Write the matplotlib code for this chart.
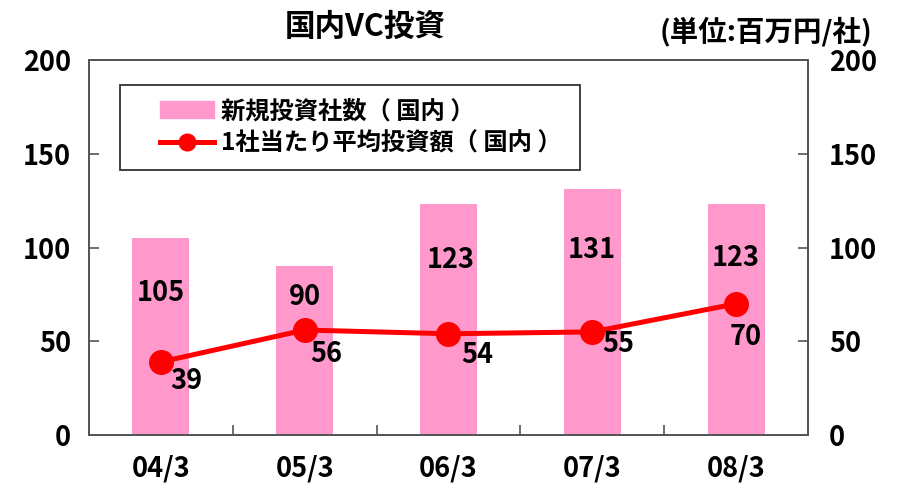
import matplotlib.pyplot as plt
from matplotlib.patches import Patch
from matplotlib.lines import Line2D
from matplotlib.legend_handler import HandlerPatch, HandlerLine2D

plt.rcParams['font.family'] = ['Noto Sans CJK JP', 'DejaVu Sans']

# data
periods = ['04/3', '05/3', '06/3', '07/3', '08/3']
new_companies = [105, 90, 123, 131, 123]      # 新規投資社数(国内)
avg_investment = [39, 56, 54, 55, 70]         # 1社当たり平均投資額(国内)

bar_color = '#FF99CC'
line_color = '#FF0000'

fig = plt.figure(figsize=(8.97, 4.86), dpi=100)
ax = fig.add_axes([0.0992, 0.1049, 0.8016, 0.7716])
ax2 = ax.twinx()

x = list(range(len(periods)))
ax.bar(x, new_companies, width=0.395, color=bar_color, zorder=2)
ax2.plot(x, avg_investment, color=line_color, lw=3.6, marker='o', ms=17, zorder=3)

for a in (ax, ax2):
    a.set_ylim(0, 200)
    a.set_xlim(-0.5, len(periods) - 0.5)
    a.set_yticks([0, 50, 100, 150, 200])
    for s in a.spines.values():
        s.set_color('#555555')
        s.set_linewidth(1.3)

ax.tick_params(axis='y', direction='in', length=7, width=1.2, color='#555555',
               pad=13, labelsize=19.5)
ax2.tick_params(axis='y', direction='in', length=7, width=1.2, color='#555555',
                pad=15, labelsize=19.5)
ax.set_xticks([i + 0.5 for i in x[:-1]])
ax.set_xticklabels([])
ax.set_xticks(x, minor=True)
ax.set_xticklabels(periods, minor=True, fontsize=19.5)
ax.tick_params(axis='x', which='major', direction='in', length=7, width=1.2, color='#555555')
ax.tick_params(axis='x', which='minor', length=0, pad=14)
for lab in ax.get_yticklabels() + ax2.get_yticklabels() + ax.get_xticklabels(minor=True):
    lab.set_fontweight('bold')

# value labels
bar_off = [(0, -55), (0, -31), (2, -56), (0, -61), (0, -54)]
for i, v in enumerate(new_companies):
    ax.annotate(str(v), (i, v), xytext=bar_off[i], textcoords='offset pixels',
                ha='center', va='center', fontsize=19.5, fontweight='bold', zorder=4)
line_off = [(25, -19), (22, -24), (29, -21), (26, -12), (10, -33)]
for i, v in enumerate(avg_investment):
    ax2.annotate(str(v), (i, v), xytext=line_off[i], textcoords='offset pixels',
                 ha='center', va='center', fontsize=19.5, fontweight='bold', zorder=4)

bar_h = Patch(color=bar_color)
line_h = Line2D([], [], color=line_color, lw=3.6, marker='o', ms=12)
labels = ['新規投資社数（ 国内 ）', '1社当たり平均投資額（ 国内 ）']
leg = ax2.legend([bar_h, line_h], labels, loc='upper left',
                 bbox_to_anchor=(0.043, 0.704, 0.640, 0.229), mode='expand',
                 borderaxespad=0, fancybox=False, framealpha=1, edgecolor='#333333',
                 prop={'size': 17.5, 'weight': 'bold'}, handlelength=3.3,
                 handleheight=0.7, handletextpad=0.28, labelspacing=0.36,
                 borderpad=0.58,
                 handler_map={Patch: HandlerPatch(xpad=1.07),
                              Line2D: HandlerLine2D(xpad=1.07)})
leg.get_frame().set_linewidth(1.3)

fig.text(0.407, 0.945, '国内VC投資', ha='center', va='center', fontsize=22, fontweight='bold')
fig.text(0.972, 0.935, '(単位:百万円/社)', ha='right', va='center', fontsize=20.5, fontweight='bold')

fig.savefig('out.png', dpi=100)
